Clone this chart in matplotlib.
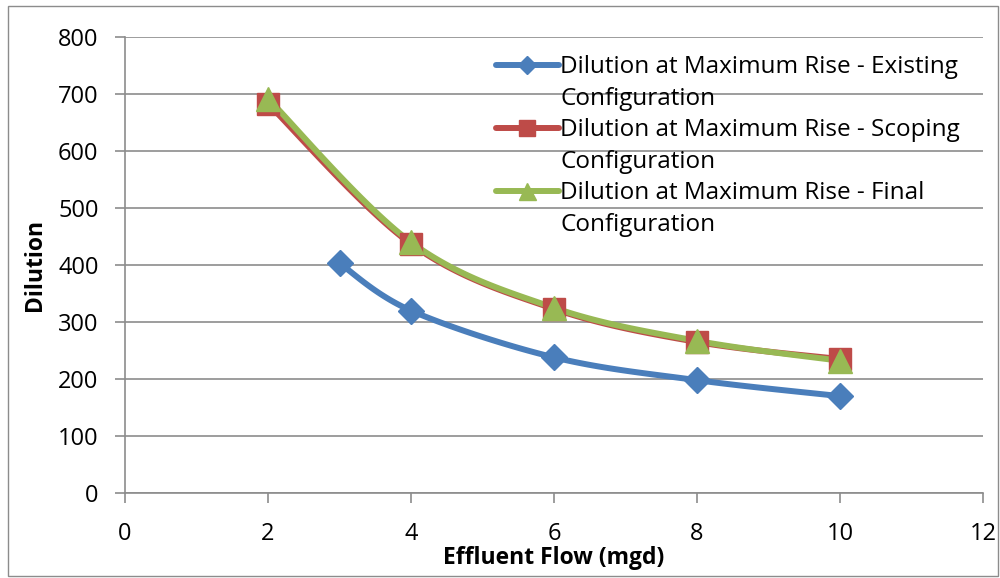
import numpy as np
import matplotlib
matplotlib.use('Agg')
import matplotlib.pyplot as plt
from matplotlib.patches import Rectangle
from matplotlib.lines import Line2D

# dilution data, effluent flow in mgd
flow_existing = [3, 4, 6, 8, 10]
dil_existing = [403, 320, 238, 198, 170]

flow_scoping = [2, 4, 6, 8, 10]
dil_scoping = [683, 437, 323, 265, 235]

flow_final = [2, 4, 6, 8, 10]
dil_final = [692, 440, 325, 267, 232]

labels = ['Dilution at Maximum Rise - Existing',
          'Dilution at Maximum Rise - Scoping',
          'Dilution at Maximum Rise - Final']
colors = ['#4A7EBB', '#BE4B48', '#98B954']
markers = ['D', 's', '^']
msizes = [13, 16, 17]

plt.rcParams['font.family'] = ['Open Sans', 'DejaVu Sans']


def smooth(x, y, n=30):
    # bezier smoothing between points, like a spreadsheet "smoothed line"
    x = np.asarray(x, float)
    y = np.asarray(y, float)
    px = np.concatenate([[x[0]], x, [x[-1]]])
    py = np.concatenate([[y[0]], y, [y[-1]]])
    xs, ys = [], []
    t = np.linspace(0, 1, n)
    for i in range(1, len(px) - 2):
        p0 = np.array([px[i], py[i]])
        p3 = np.array([px[i + 1], py[i + 1]])
        p1 = p0 + (np.array([px[i + 1], py[i + 1]]) - np.array([px[i - 1], py[i - 1]])) / 6
        p2 = p3 - (np.array([px[i + 2], py[i + 2]]) - np.array([px[i], py[i]])) / 6
        b = ((1 - t) ** 3)[:, None] * p0 + (3 * (1 - t) ** 2 * t)[:, None] * p1 \
            + (3 * (1 - t) * t ** 2)[:, None] * p2 + (t ** 3)[:, None] * p3
        xs.extend(b[:, 0])
        ys.extend(b[:, 1])
    return xs, ys


fig = plt.figure(figsize=(10, 5.78), dpi=100)
ax = fig.add_axes([0.125, 0.147, 0.858, 0.789])

handles, texts = [], []
series = [(flow_existing, dil_existing), (flow_scoping, dil_scoping), (flow_final, dil_final)]
for (fx, dy), c, m, ms, lab in zip(series, colors, markers, msizes, labels):
    sx, sy = smooth(fx, dy)
    ax.plot(sx, sy, color=c, lw=4.3, solid_capstyle='round', zorder=3)
    ax.plot(fx, dy, linestyle='none', marker=m, color=c, ms=ms, zorder=4)
    # legend: handle on first line, wrapped word on its own row
    handles.append(Line2D([], [], color=c, lw=4.3, marker=m, ms=ms * 0.72, solid_capstyle='round'))
    texts.append(lab)
    handles.append(Line2D([], [], linestyle='none'))
    texts.append('Configuration')

ax.set_xlim(0, 12)
ax.set_ylim(0, 800)
ax.set_xticks(range(0, 13, 2))
ax.set_yticks(range(0, 801, 100))
ax.yaxis.grid(True, color='#8c8c8c', lw=1.2)
ax.set_axisbelow(True)
for s in ['top', 'right']:
    ax.spines[s].set_visible(False)
for s in ['left', 'bottom']:
    ax.spines[s].set_color('#8c8c8c')
    ax.spines[s].set_linewidth(1.2)
ax.tick_params(axis='both', color='#8c8c8c', width=1.2, length=7, labelsize=17, pad=12)
ax.tick_params(axis='x', pad=14)

ax.set_xlabel('Effluent Flow (mgd)', fontsize=16.5, fontweight='bold', labelpad=0)
ax.set_ylabel('Dilution', fontsize=16.5, fontweight='bold', labelpad=8)

leg = ax.legend(handles, texts, loc='upper left', bbox_to_anchor=(0.432, 0.96), frameon=False,
                fontsize=17.5, handlelength=2.6, handletextpad=0.05,
                labelspacing=0.31, borderaxespad=0, borderpad=0)

# outer chart border
fig.patches.append(Rectangle((0.008, 0.004), 0.99, 0.985, transform=fig.transFigure,
                             fill=False, edgecolor='#8c8c8c', lw=1))

fig.savefig('out.png', dpi=100)
